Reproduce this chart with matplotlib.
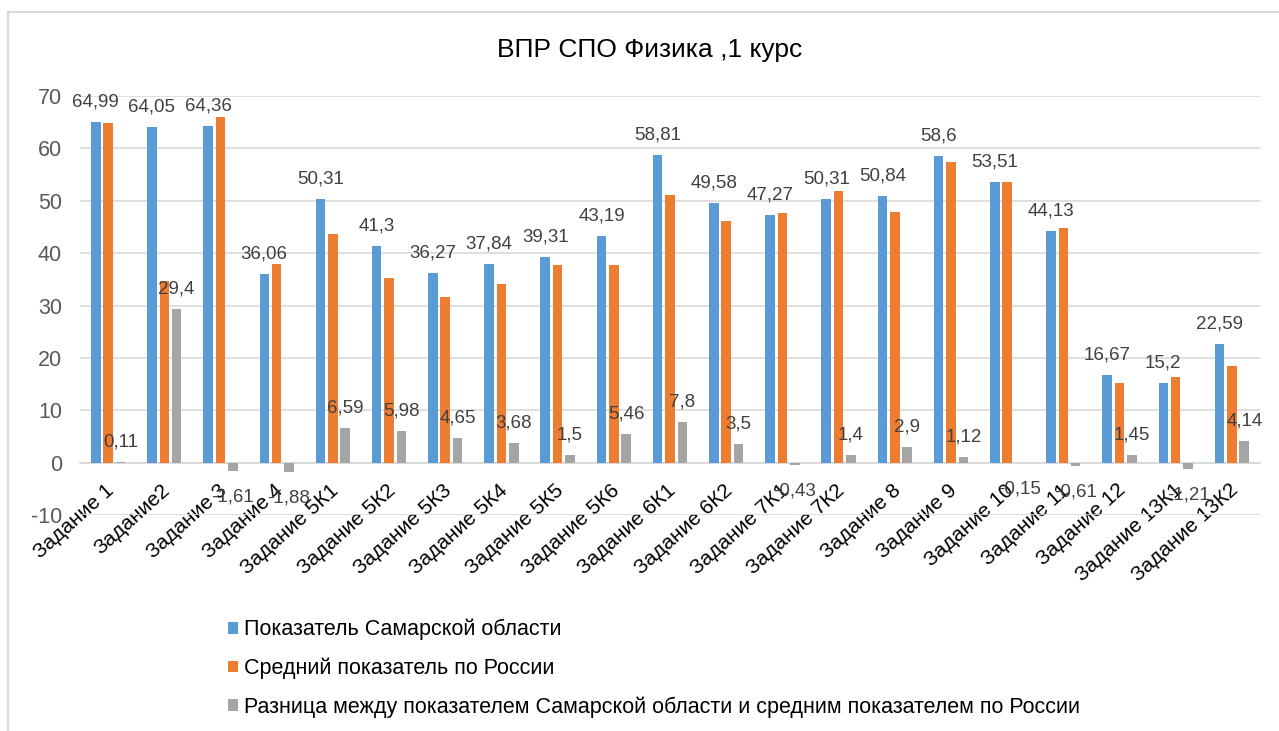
import matplotlib
matplotlib.use("Agg")
from matplotlib import pyplot as plt
from matplotlib.transforms import ScaledTranslation
import numpy as np

plt.rcParams['font.family'] = ['Liberation Sans', 'DejaVu Sans']
plt.rcParams['axes.unicode_minus'] = False

categories = ["Задание 1", "Задание2", "Задание 3", "Задание 4", "Задание 5К1",
              "Задание 5К2", "Задание 5К3", "Задание 5К4", "Задание 5К5", "Задание 5К6",
              "Задание 6К1", "Задание 6К2", "Задание 7К1", "Задание 7К2", "Задание 8",
              "Задание 9", "Задание 10", "Задание 11", "Задание 12", "Задание 13К1",
              "Задание 13К2"]
samara = [64.99, 64.05, 64.36, 36.06, 50.31, 41.3, 36.27, 37.84, 39.31, 43.19, 58.81,
          49.58, 47.27, 50.31, 50.84, 58.6, 53.51, 44.13, 16.67, 15.2, 22.59]
russia = [64.88, 34.65, 65.97, 37.94, 43.72, 35.32, 31.62, 34.16, 37.81, 37.73, 51.01,
          46.08, 47.7, 51.9, 47.94, 57.48, 53.66, 44.74, 15.22, 16.41, 18.45]
diff = [0.11, 29.4, -1.61, -1.88, 6.59, 5.98, 4.65, 3.68, 1.5, 5.46, 7.8, 3.5, -0.43,
        1.4, 2.9, 1.12, -0.15, -0.61, 1.45, -1.21, 4.14]
series_names = ["Показатель Самарской области",
                "Средний показатель по России",
                "Разница между показателем Самарской области и средним показателем по России"]
colors = ["#5B9BD5", "#ED7D31", "#A5A5A5"]
yticks = [-10, 0, 10, 20, 30, 40, 50, 60, 70]


def fmt(v):
    return f"{v:g}".replace(".", ",")


def main() -> None:
    fig = plt.figure(figsize=(12.79, 7.31), dpi=100)
    ax = fig.add_axes([80 / 1279, 1 - 515 / 731, 1180 / 1279, 419 / 731])

    x = np.arange(len(categories))
    width, step = 0.17, 0.22
    bars = []
    for k, vals in enumerate([samara, russia, diff]):
        bars.append(ax.bar(x + (k - 1) * step, vals, width, color=colors[k],
                           label=series_names[k], zorder=3))

    # data labels: Samara and difference only
    for xi, v in zip(x, samara):
        ax.annotate(fmt(v), (xi - step, v), xytext=(0, 20), textcoords="offset pixels",
                    ha="center", va="center", fontsize=13.5, color="#404040", zorder=5)
    for xi, v in zip(x, diff):
        off = 20 if v >= 0 else -26
        ax.annotate(fmt(v), (xi + step, v), xytext=(0, off), textcoords="offset pixels",
                    ha="center", va="center", fontsize=13.5, color="#404040", zorder=5)

    ax.set_xlim(-0.5, len(categories) - 0.5)
    ax.set_ylim(-10, 70)
    ax.set_yticks(yticks)
    ax.yaxis.grid(True, color="#D9D9D9", linewidth=1.2, zorder=0)
    ax.tick_params(axis="y", length=0, labelsize=15.5, labelcolor="#595959", pad=13)
    for s in ["top", "right", "left"]:
        ax.spines[s].set_visible(False)
    ax.spines["bottom"].set_position(("data", 0))
    ax.spines["bottom"].set_color("#D9D9D9")
    ax.spines["bottom"].set_linewidth(1.2)

    ax.set_xticks(x)
    ax.set_xticklabels(categories, rotation=42, ha="right", rotation_mode="anchor",
                       fontsize=15, color="black")
    ax.tick_params(axis="x", length=0, pad=15)
    shift = ScaledTranslation(-3 / 100, 3 / 100, fig.dpi_scale_trans)
    for lab in ax.get_xticklabels():
        lab.set_transform(lab.get_transform() + shift)

    fig.text(650 / 1279, 1 - 50 / 731, "ВПР СПО Физика ,1 курс", ha="center", va="center",
             fontsize=19, color="#000000")

    fig.legend(handles=bars, labels=series_names, loc="upper left",
               bbox_to_anchor=(228 / 1279, 1 - 619 / 731), frameon=False, fontsize=15.5,
               handlelength=0.47, handleheight=0.47, handletextpad=0.25, labelspacing=0.8,
               borderpad=0, borderaxespad=0)

    # chart area border (cropped)
    fig.add_artist(plt.Line2D([8 / 1279, 8 / 1279], [0, 1 - 12 / 731], color="#D9D9D9",
                              linewidth=1.5, transform=fig.transFigure))
    fig.add_artist(plt.Line2D([8 / 1279, 1], [1 - 12 / 731, 1 - 12 / 731], color="#D9D9D9",
                              linewidth=1.5, transform=fig.transFigure))

    fig.savefig("out.png", dpi=100)


if __name__ == '__main__':
    main()
